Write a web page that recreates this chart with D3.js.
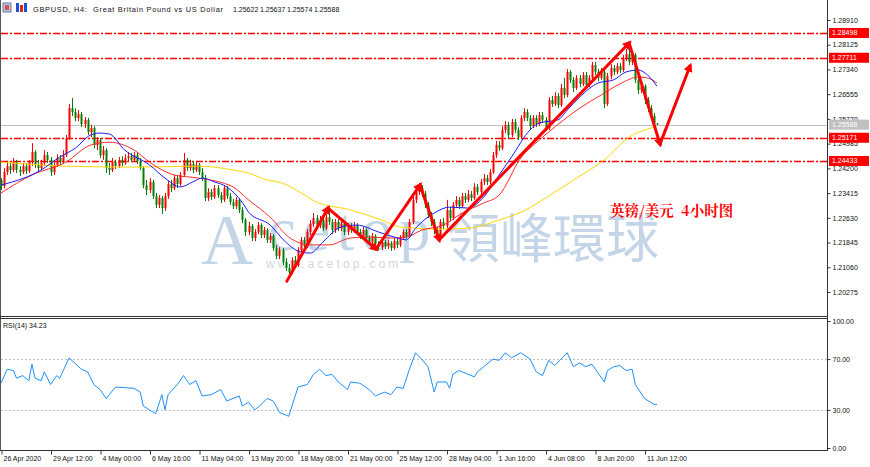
<!DOCTYPE html>
<html><head><meta charset="utf-8">
<script src="https://cdn.jsdelivr.net/npm/d3@7/dist/d3.min.js"></script>
<style>
body{margin:0;background:#fff;}
svg{display:block;}
</style></head>
<body><svg id="c" width="870" height="467"></svg>
<script>
// ---------------- DATA ----------------
const titleText = "GBPUSD, H4:  Great Britain Pound vs US Dollar";
const headerQuote = ["1.25622", "1.25637", "1.25574", "1.25588"];

const opens = [1.2383,
1.2364,1.2408,1.2427,1.2415,1.2440,1.2415,1.2408,1.2427,1.2412,1.2440,
1.2472,1.2431,1.2421,1.2437,1.2462,1.2447,1.2408,1.2431,1.2453,1.2440,
1.2462,1.2516,1.2611,1.2599,1.2580,1.2592,1.2561,1.2574,1.2535,1.2548,
1.2494,1.2510,1.2462,1.2478,1.2421,1.2415,1.2440,1.2427,1.2447,1.2437,
1.2453,1.2459,1.2447,1.2462,1.2443,1.2421,1.2367,1.2351,1.2377,1.2332,
1.2304,1.2326,1.2294,1.2332,1.2370,1.2357,1.2389,1.2370,1.2399,1.2447,
1.2421,1.2434,1.2415,1.2431,1.2408,1.2389,1.2326,1.2345,1.2329,1.2357,
1.2335,1.2320,1.2357,1.2332,1.2313,1.2300,1.2320,1.2288,1.2256,1.2218,
1.2237,1.2199,1.2218,1.2240,1.2208,1.2224,1.2193,1.2205,1.2167,1.2142,
1.2161,1.2123,1.2104,1.2091,1.2129,1.2113,1.2161,1.2193,1.2173,1.2218,
1.2243,1.2262,1.2240,1.2256,1.2230,1.2265,1.2250,1.2224,1.2250,1.2230,
1.2243,1.2218,1.2237,1.2224,1.2240,1.2218,1.2205,1.2224,1.2199,1.2186,
1.2205,1.2180,1.2170,1.2186,1.2173,1.2183,1.2167,1.2189,1.2177,1.2199,
1.2218,1.2205,1.2250,1.2320,1.2345,1.2357,1.2338,1.2304,1.2272,1.2250,
1.2224,1.2211,1.2250,1.2237,1.2288,1.2262,1.2304,1.2320,1.2300,1.2332,
1.2320,1.2338,1.2326,1.2361,1.2345,1.2377,1.2389,1.2377,1.2408,1.2462,
1.2494,1.2484,1.2542,1.2558,1.2526,1.2567,1.2542,1.2519,1.2580,1.2599,
1.2580,1.2554,1.2580,1.2561,1.2589,1.2574,1.2548,1.2637,1.2624,1.2650,
1.2621,1.2675,1.2653,1.2726,1.2701,1.2675,1.2707,1.2688,1.2716,1.2685,
1.2707,1.2748,1.2726,1.2707,1.2726,1.2624,1.2713,1.2739,1.2726,1.2745,
1.2732,1.2770,1.2783,1.2758,1.2780,1.2701,1.2669,1.2681,1.2637,1.2611,
1.2586,1.25622];

const highs = [
1.2389,1.2421,1.2440,1.2437,1.2453,1.2447,1.2427,1.2437,1.2437,1.2447,
1.2500,1.2478,1.2447,1.2447,1.2478,1.2472,1.2456,1.2440,1.2465,1.2462,
1.2478,1.2526,1.2624,1.2643,1.2611,1.2605,1.2599,1.2583,1.2580,1.2558,
1.2554,1.2519,1.2516,1.2491,1.2484,1.2437,1.2453,1.2447,1.2456,1.2459,
1.2465,1.2472,1.2469,1.2472,1.2469,1.2453,1.2427,1.2383,1.2389,1.2383,
1.2342,1.2335,1.2332,1.2342,1.2380,1.2383,1.2399,1.2399,1.2408,1.2469,
1.2453,1.2447,1.2443,1.2440,1.2437,1.2421,1.2399,1.2357,1.2354,1.2367,
1.2367,1.2345,1.2367,1.2364,1.2342,1.2323,1.2329,1.2326,1.2297,1.2262,
1.2250,1.2243,1.2227,1.2250,1.2246,1.2234,1.2230,1.2215,1.2211,1.2177,
1.2170,1.2167,1.2135,1.2116,1.2138,1.2142,1.2170,1.2202,1.2202,1.2227,
1.2256,1.2278,1.2272,1.2269,1.2265,1.2275,1.2285,1.2259,1.2259,1.2259,
1.2256,1.2250,1.2246,1.2246,1.2250,1.2246,1.2227,1.2234,1.2230,1.2208,
1.2215,1.2211,1.2189,1.2196,1.2193,1.2193,1.2189,1.2199,1.2199,1.2208,
1.2227,1.2227,1.2259,1.2329,1.2357,1.2373,1.2367,1.2348,1.2313,1.2281,
1.2259,1.2234,1.2259,1.2262,1.2320,1.2297,1.2313,1.2332,1.2329,1.2342,
1.2342,1.2351,1.2348,1.2373,1.2370,1.2386,1.2402,1.2399,1.2418,1.2472,
1.2507,1.2507,1.2554,1.2570,1.2567,1.2577,1.2577,1.2551,1.2589,1.2611,
1.2608,1.2589,1.2589,1.2589,1.2599,1.2599,1.2583,1.2646,1.2650,1.2662,
1.2659,1.2688,1.2707,1.2735,1.2732,1.2710,1.2716,1.2716,1.2726,1.2726,
1.2716,1.2758,1.2758,1.2735,1.2739,1.2732,1.2723,1.2751,1.2748,1.2754,
1.2754,1.2780,1.2799,1.2805,1.2793,1.2786,1.2710,1.2691,1.2688,1.2646,
1.2621,1.2596,1.25637];

const lows = [
1.2351,1.2357,1.2399,1.2402,1.2408,1.2405,1.2396,1.2402,1.2402,1.2405,
1.2427,1.2421,1.2408,1.2415,1.2427,1.2437,1.2396,1.2399,1.2424,1.2431,
1.2434,1.2456,1.2510,1.2586,1.2570,1.2570,1.2551,1.2548,1.2526,1.2519,
1.2484,1.2478,1.2453,1.2447,1.2405,1.2399,1.2408,1.2418,1.2421,1.2427,
1.2431,1.2443,1.2440,1.2440,1.2434,1.2415,1.2357,1.2335,1.2342,1.2323,
1.2294,1.2294,1.2275,1.2285,1.2323,1.2345,1.2351,1.2357,1.2364,1.2393,
1.2412,1.2412,1.2405,1.2408,1.2399,1.2380,1.2316,1.2316,1.2320,1.2323,
1.2326,1.2310,1.2313,1.2323,1.2304,1.2291,1.2291,1.2278,1.2246,1.2205,
1.2208,1.2189,1.2189,1.2211,1.2199,1.2199,1.2183,1.2183,1.2158,1.2132,
1.2132,1.2113,1.2094,1.2075,1.2084,1.2104,1.2107,1.2154,1.2164,1.2167,
1.2208,1.2234,1.2230,1.2230,1.2221,1.2224,1.2240,1.2211,1.2215,1.2221,
1.2221,1.2208,1.2208,1.2215,1.2215,1.2208,1.2196,1.2196,1.2189,1.2177,
1.2177,1.2170,1.2161,1.2161,1.2164,1.2164,1.2158,1.2161,1.2167,1.2170,
1.2193,1.2196,1.2199,1.2243,1.2310,1.2335,1.2329,1.2294,1.2262,1.2237,
1.2211,1.2196,1.2205,1.2227,1.2230,1.2253,1.2256,1.2294,1.2291,1.2294,
1.2310,1.2313,1.2316,1.2320,1.2335,1.2338,1.2367,1.2367,1.2370,1.2402,
1.2453,1.2475,1.2478,1.2532,1.2516,1.2519,1.2532,1.2510,1.2513,1.2570,
1.2570,1.2545,1.2548,1.2551,1.2554,1.2564,1.2539,1.2542,1.2615,1.2618,
1.2611,1.2615,1.2643,1.2646,1.2691,1.2662,1.2669,1.2678,1.2681,1.2675,
1.2678,1.2701,1.2716,1.2697,1.2701,1.2611,1.2618,1.2703,1.2716,1.2719,
1.2723,1.2726,1.2761,1.2748,1.2748,1.2691,1.2656,1.2659,1.2624,1.2599,
1.2574,1.2554,1.25574];

const closes = [
1.2364,1.2408,1.2427,1.2415,1.2440,1.2415,1.2408,1.2427,1.2412,1.2440,
1.2472,1.2431,1.2421,1.2437,1.2462,1.2447,1.2408,1.2431,1.2453,1.2440,
1.2462,1.2516,1.2611,1.2599,1.2580,1.2592,1.2561,1.2574,1.2535,1.2548,
1.2494,1.2510,1.2462,1.2478,1.2421,1.2415,1.2440,1.2427,1.2447,1.2437,
1.2453,1.2459,1.2447,1.2462,1.2443,1.2421,1.2367,1.2351,1.2377,1.2332,
1.2304,1.2326,1.2294,1.2332,1.2370,1.2357,1.2389,1.2370,1.2399,1.2447,
1.2421,1.2434,1.2415,1.2431,1.2408,1.2389,1.2326,1.2345,1.2329,1.2357,
1.2335,1.2320,1.2357,1.2332,1.2313,1.2300,1.2320,1.2288,1.2256,1.2218,
1.2237,1.2199,1.2218,1.2240,1.2208,1.2224,1.2193,1.2205,1.2167,1.2142,
1.2161,1.2123,1.2104,1.2091,1.2129,1.2113,1.2161,1.2193,1.2173,1.2218,
1.2243,1.2262,1.2240,1.2256,1.2230,1.2265,1.2250,1.2224,1.2250,1.2230,
1.2243,1.2218,1.2237,1.2224,1.2240,1.2218,1.2205,1.2224,1.2199,1.2186,
1.2205,1.2180,1.2170,1.2186,1.2173,1.2183,1.2167,1.2189,1.2177,1.2199,
1.2218,1.2205,1.2250,1.2320,1.2345,1.2357,1.2338,1.2304,1.2272,1.2250,
1.2224,1.2211,1.2250,1.2237,1.2288,1.2262,1.2304,1.2320,1.2300,1.2332,
1.2320,1.2338,1.2326,1.2361,1.2345,1.2377,1.2389,1.2377,1.2408,1.2462,
1.2494,1.2484,1.2542,1.2558,1.2526,1.2567,1.2542,1.2519,1.2580,1.2599,
1.2580,1.2554,1.2580,1.2561,1.2589,1.2574,1.2548,1.2637,1.2624,1.2650,
1.2621,1.2675,1.2653,1.2726,1.2701,1.2675,1.2707,1.2688,1.2716,1.2685,
1.2707,1.2748,1.2726,1.2707,1.2726,1.2624,1.2713,1.2739,1.2726,1.2745,
1.2732,1.2770,1.2783,1.2758,1.2780,1.2701,1.2669,1.2681,1.2637,1.2611,
1.2586,1.25622,1.25588];

// moving averages (bar index, value)
const maBlueIdx = [0,13,19,24,29,32,35,40,48,53,58,62,65,69,73,79,80,87,92,97,100,104,110,115,122,128,131,134,140,145,151,156,161,165,171,174,180,183,187,193,198,202,206,209,212];
const maBlueVal = [1.2367,1.2415,1.2456,1.2484,1.2526,1.2532,1.2529,1.2478,1.2431,1.2389,1.2361,1.2377,1.2389,1.2377,1.2361,1.2297,1.2281,1.2240,1.2186,1.2154,1.2151,1.2186,1.2234,1.2240,1.2218,1.2199,1.2193,1.2230,1.2278,1.2297,1.2294,1.2329,1.2399,1.2456,1.2542,1.2564,1.2574,1.2605,1.2646,1.2691,1.2701,1.2726,1.2732,1.2716,1.2681];
const maRedIdx = [0,10,21,29,35,43,48,56,64,75,80,87,93,100,106,113,119,126,131,136,143,149,156,161,168,174,181,187,194,200,206,209,212];
const maRedVal = [1.2342,1.2399,1.2440,1.2494,1.2503,1.2478,1.2440,1.2399,1.2389,1.2361,1.2320,1.2265,1.2202,1.2177,1.2177,1.2199,1.2202,1.2199,1.2202,1.2224,1.2240,1.2278,1.2310,1.2335,1.2453,1.2510,1.2567,1.2611,1.2653,1.2688,1.2710,1.2707,1.2691];
const maYellowIdx = [0,21,43,64,75,80,86,91,97,102,113,123,129,134,141,151,161,169,176,186,195,203,211,212];
const maYellowVal = [1.2440,1.2427,1.2424,1.2427,1.2415,1.2405,1.2383,1.2373,1.2342,1.2313,1.2288,1.2256,1.2234,1.2230,1.2227,1.2230,1.2256,1.2285,1.2326,1.2389,1.2447,1.2519,1.2551,1.2554];

const rsiIdx = [0,2,4,5,7,9,10,11,13,14,16,18,19,22,26,28,30,32,34,37,43,45,46,50,52,53,54,57,59,61,63,65,68,71,73,77,78,80,82,84,86,88,90,93,96,99,101,103,105,107,109,112,113,116,119,121,124,126,128,130,132,134,137,138,140,141,144,145,146,148,151,153,154,156,159,161,163,165,168,171,173,175,177,179,181,183,185,187,189,191,195,196,198,200,202,204,205,208,211,212];
const rsiVal = [51,62,61,55,57,53,66,55,53,60,50,57,55,71,62,60,50,46,39,48,47,44,33,27,42,30,42,50,57,50,53,41,42,46,37,41,33,36,30,34,39,37,28,25,48,50,58,62,57,58,52,46,52,51,46,41,44,42,48,47,62,75,67,64,44,52,52,47,58,61,58,56,60,64,70,69,75,71,75,70,60,57,69,65,70,75,64,67,64,66,52,61,64,65,61,62,50,39,34.4,34.23];
const rsiLabel = "RSI(14) 34.23";

const priceTicks = [1.28910,1.28125,1.27340,1.26555,1.25770,1.24985,1.24200,1.23415,1.22630,1.21845,1.21060,1.20275];
const levelLines = [1.28498, 1.27711, 1.25171, 1.24433];
const bidPrice = 1.25588;
const rsiTicks = [100, 70, 30, 0];
const rsiLevels = [70, 30];

const timeTickIdx = [0,16,32,48,64,80,96,112,128,144,160,176,192,208];
const timeTickLabels = ["26 Apr 2020","29 Apr 12:00","4 May 00:00","6 May 16:00","11 May 04:00","13 May 20:00","18 May 08:00","21 May 00:00","25 May 12:00","28 May 04:00","1 Jun 16:00","4 Jun 08:00","8 Jun 20:00","11 Jun 12:00"];

// hand-drawn zig-zag arrows (bar index, price)
const arrowIdx = [92.4,105.7,121.2,135.4,141.6,203,213,222.7];
const arrowPrice = [1.2062,1.2294,1.2164,1.2367,1.2193,1.2818,1.2497,1.2745];
const noteText = "英镑/美元  4小时图";

// ---------------- DRAW ----------------
const svg = d3.select("#c");
const FONT = "'Liberation Sans', Arial, sans-serif";
const axisX = 827;
const mainBottom = 316, rsiTop = 318, rsiBottom = 450;

const nBars = closes.length;
const x = d3.scaleLinear().domain([0, 267]).range([1, 1 + 3.094 * 267]);
const y = d3.scaleLinear().domain([1.20275, 1.28910]).range([292, 20]);
const yr = d3.scaleLinear().domain([0, 100]).range([448, 321]);

svg.append("rect").attr("width", 870).attr("height", 467).attr("fill", "#fff");

const defs = svg.append("defs");
defs.append("clipPath").attr("id", "mainClip").append("rect")
  .attr("x", 1).attr("y", 1).attr("width", axisX - 1).attr("height", mainBottom - 1);
defs.append("clipPath").attr("id", "rsiClip").append("rect")
  .attr("x", 1).attr("y", rsiTop).attr("width", axisX - 1).attr("height", rsiBottom - rsiTop);
defs.append("marker").attr("id", "ah").attr("viewBox", "0 0 10 10")
  .attr("refX", 6).attr("refY", 5).attr("markerWidth", 10).attr("markerHeight", 9)
  .attr("markerUnits", "userSpaceOnUse").attr("orient", "auto")
  .append("path").attr("d", "M0,0 L10,5 L0,10 z").attr("fill", "#ff0000");

// watermark
const wm = svg.append("g").attr("clip-path", "url(#mainClip)");
const wmCol = "#c4d5e7";
wm.append("text").attr("x", 201).attr("y", 264).attr("font-family", "'Liberation Serif', serif")
  .attr("font-size", 72).attr("fill", wmCol).text("A");
wm.append("text").attr("x", 268).attr("y", 250).attr("font-family", "'Liberation Serif', serif")
  .attr("font-size", 62).attr("letter-spacing", 7).attr("fill", wmCol).text("cetop");
wm.append("text").attr("x", 447).attr("y", 258).attr("font-family", "'Noto Sans CJK TC', sans-serif")
  .attr("font-size", 53).attr("fill", wmCol).text("領峰環球");
wm.append("text").attr("x", 266).attr("y", 268).attr("font-family", FONT)
  .attr("font-size", 12).attr("letter-spacing", 3.2).attr("fill", "#cfd6df").text("www.acetop.com");

const main = svg.append("g").attr("clip-path", "url(#mainClip)");

// bid line
main.append("line").attr("x1", 1).attr("x2", axisX).attr("y1", Math.round(y(bidPrice)) + 0.5).attr("y2", Math.round(y(bidPrice)) + 0.5)
  .attr("stroke", "#c0c0c0").attr("stroke-width", 1);

// level lines
main.selectAll("line.lvl").data(levelLines).join("line").attr("class", "lvl")
  .attr("x1", 1).attr("x2", axisX)
  .attr("y1", d => Math.round(y(d)) + 0.5).attr("y2", d => Math.round(y(d)) + 0.5)
  .attr("stroke", "#ff0000").attr("stroke-width", 1.3).attr("stroke-dasharray", "7,2,2,2");

// candles
const bars = d3.range(nBars);
const cg = main.append("g");
const bull = i => closes[i] >= opens[i];
cg.selectAll("line.w").data(bars).join("line")
  .attr("x1", i => Math.round(x(i)) + 0.5).attr("x2", i => Math.round(x(i)) + 0.5)
  .attr("y1", i => y(highs[i])).attr("y2", i => y(lows[i]))
  .attr("stroke", i => bull(i) ? "#ff0000" : "#008000").attr("stroke-width", 1);
cg.selectAll("rect.b").data(bars).join("rect")
  .attr("x", i => Math.round(x(i)) - 0.5).attr("width", 2)
  .attr("y", i => Math.min(y(opens[i]), y(closes[i])))
  .attr("height", i => Math.max(1, Math.abs(y(opens[i]) - y(closes[i]))))
  .attr("fill", i => bull(i) ? "#ff0000" : "#008000");

// moving averages
function maLine(idx, val, col) {
  const pts = idx.map((d, k) => [x(d), y(val[k])]);
  main.append("path").attr("d", d3.line().curve(d3.curveMonotoneX)(pts))
    .attr("fill", "none").attr("stroke", col).attr("stroke-width", 1);
}
maLine(maYellowIdx, maYellowVal, "#ffd700");
maLine(maRedIdx, maRedVal, "#ff2a2a");
maLine(maBlueIdx, maBlueVal, "#1a1aff");

// arrows
for (let k = 0; k < arrowIdx.length - 1; k++) {
  svg.append("line")
    .attr("x1", x(arrowIdx[k])).attr("y1", y(arrowPrice[k]))
    .attr("x2", x(arrowIdx[k + 1])).attr("y2", y(arrowPrice[k + 1]))
    .attr("stroke", "#ff0000").attr("stroke-width", 3).attr("stroke-linecap", "round")
    .attr("marker-end", "url(#ah)");
}

// annotation text
svg.append("text").attr("x", 610).attr("y", 216)
  .attr("font-family", "'Noto Serif CJK SC','Noto Sans CJK SC', sans-serif").attr("font-weight", 700)
  .attr("font-size", 14.5).attr("fill", "#ff0000").attr("xml:space", "preserve").text(noteText);

// frames
svg.append("line").attr("x1", 0.5).attr("x2", 0.5).attr("y1", 0).attr("y2", rsiBottom).attr("stroke", "#555");
svg.append("line").attr("x1", axisX + 0.5).attr("x2", axisX + 0.5).attr("y1", 0).attr("y2", rsiBottom + 1).attr("stroke", "#333");
svg.append("line").attr("x1", 0).attr("x2", axisX + 1).attr("y1", mainBottom + 0.5).attr("y2", mainBottom + 0.5).attr("stroke", "#333");
svg.append("line").attr("x1", 0).attr("x2", axisX + 1).attr("y1", rsiTop + 0.5).attr("y2", rsiTop + 0.5).attr("stroke", "#333");
svg.append("line").attr("x1", 0).attr("x2", axisX + 1).attr("y1", rsiBottom + 0.5).attr("y2", rsiBottom + 0.5).attr("stroke", "#333");

// header
svg.append("rect").attr("x", 3).attr("y", 3).attr("width", 8).attr("height", 9).attr("fill", "#b8c4d8").attr("stroke", "#6a7ea8");
svg.append("rect").attr("x", 5).attr("y", 5).attr("width", 4).attr("height", 5).attr("fill", "#e05050");
svg.append("rect").attr("x", 16).attr("y", 3).attr("width", 3).attr("height", 9).attr("fill", "#2050d0");
svg.append("rect").attr("x", 20).attr("y", 5).attr("width", 3).attr("height", 7).attr("fill", "#e02020");
svg.append("rect").attr("x", 24).attr("y", 3).attr("width", 3).attr("height", 9).attr("fill", "#2050d0");
svg.append("text").attr("x", 33).attr("y", 12).attr("font-family", FONT).attr("font-size", 7.4)
  .attr("fill", "#111").attr("xml:space", "preserve")
  .attr("textLength", 190).attr("lengthAdjust", "spacing").text(titleText);
[233, 260, 287, 314].forEach((xx, k) =>
  svg.append("text").attr("x", xx).attr("y", 12).attr("font-family", FONT).attr("font-size", 7)
    .attr("fill", "#111").text(headerQuote[k]));

// price axis
const pa = svg.append("g").attr("transform", `translate(${axisX + 0.5},0)`)
  .call(d3.axisRight(y).tickValues(priceTicks).tickFormat(d3.format(".5f")).tickSize(3).tickPadding(2));
pa.select(".domain").remove();
pa.selectAll("line").attr("stroke", "#333");
pa.selectAll("text").attr("font-family", FONT).attr("font-size", 7).attr("fill", "#111");

// level labels
function tag(v, bg, fg) {
  const yy = y(v);
  svg.append("rect").attr("x", axisX + 2).attr("y", yy - 5).attr("width", 40).attr("height", 10).attr("fill", bg);
  svg.append("text").attr("x", axisX + 5).attr("y", yy).attr("dy", "0.34em").attr("font-family", FONT)
    .attr("font-size", 7).attr("fill", fg).text(d3.format(".5f")(v));
}
levelLines.forEach(v => tag(v, "#ff0000", "#fff"));
tag(bidPrice, "#c0c0c0", "#fff");

// time axis
const ta = svg.append("g").attr("transform", `translate(0,${rsiBottom + 0.5})`)
  .call(d3.axisBottom(x).tickValues(timeTickIdx).tickFormat((d, k) => timeTickLabels[k]).tickSize(4).tickPadding(2));
ta.select(".domain").remove();
ta.selectAll("line").attr("stroke", "#333").attr("transform", "translate(0.5,0)");
ta.selectAll("text").attr("text-anchor", "start").attr("dx", 2).attr("font-family", FONT)
  .attr("font-size", 7).attr("fill", "#111");

// RSI panel
const rg = svg.append("g").attr("clip-path", "url(#rsiClip)");
rg.selectAll("line.lv").data(rsiLevels).join("line")
  .attr("x1", 1).attr("x2", axisX).attr("y1", d => Math.round(yr(d)) + 0.5).attr("y2", d => Math.round(yr(d)) + 0.5)
  .attr("stroke", "#c0c0c0").attr("stroke-dasharray", "2,2");
rg.append("path").attr("d", d3.line()(rsiIdx.map((d, k) => [x(d), yr(rsiVal[k])])))
  .attr("fill", "none").attr("stroke", "#1e90ff").attr("stroke-width", 1);
svg.append("text").attr("x", 3).attr("y", 328).attr("font-family", FONT).attr("font-size", 7).attr("fill", "#111").text(rsiLabel);

const ra = svg.append("g").attr("transform", `translate(${axisX + 0.5},0)`)
  .call(d3.axisRight(yr).tickValues(rsiTicks).tickFormat(d3.format(".2f")).tickSize(3).tickPadding(2));
ra.select(".domain").remove();
ra.selectAll("line").attr("stroke", "#333");
ra.selectAll("text").attr("font-family", FONT).attr("font-size", 7).attr("fill", "#111");
</script>
</body></html>
